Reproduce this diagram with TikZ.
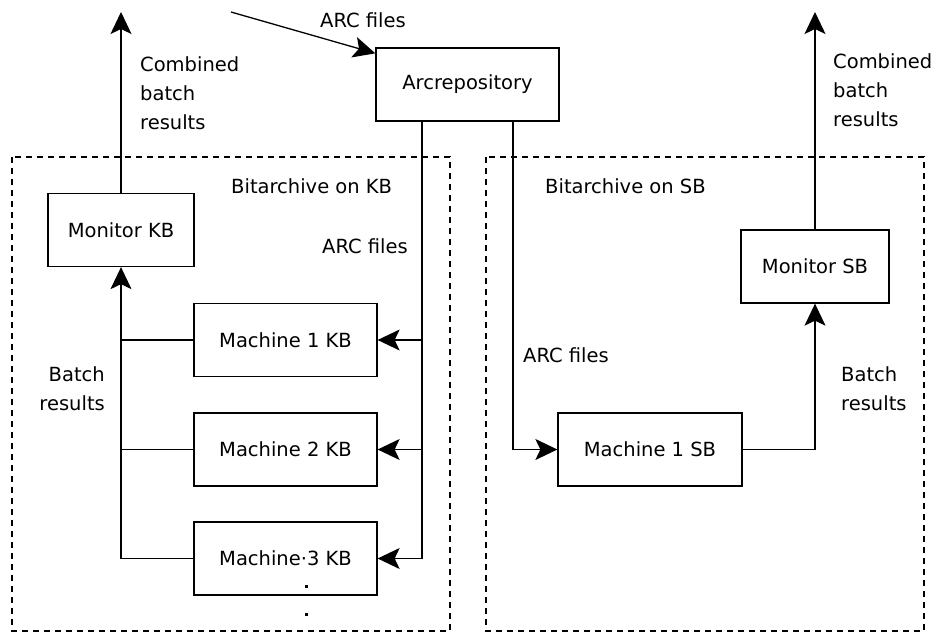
\documentclass[tikz,border=0pt]{standalone}
\usepackage{fontspec}
\setmainfont{DejaVu Sans}
\usetikzlibrary{arrows.meta}
\begin{document}
\begin{tikzpicture}[x=1pt,y=-1pt,
  every node/.style={font=\fontsize{19.5}{29}\selectfont},
  box/.style={draw,line width=1.3pt,inner sep=0pt,minimum height=73pt},
  conn/.style={line width=1.3pt},
  arr/.style={conn,-{Stealth[length=22pt,width=21pt,inset=5pt]}},
  dashbox/.style={line width=1.2pt,dash pattern=on 6pt off 5pt},
  lbl/.style={inner sep=0pt},
  dotmark/.style={fill,inner sep=0pt,minimum size=3pt}]
\useasboundingbox (0,0) rectangle (937,632);
% containers
\draw[dashbox] (12,157) rectangle (450,631);
\draw[dashbox] (486,157) rectangle (924,631);
% nodes
\node[box,minimum width=183pt] (arc) at (467.5,84.5) {Arcrepository};
\node[box,minimum width=146pt] (monk) at (121,230) {Monitor KB};
\node[box,minimum width=183pt] (m1) at (285.5,340) {Machine 1 KB};
\node[box,minimum width=183pt] (m2) at (285.5,449.5) {Machine 2 KB};
\node[box,minimum width=183pt] (m3) at (285.5,558.5) {Machine·3 KB};
\node[box,minimum width=184pt] (ms) at (650,449.5) {Machine 1 SB};
\node[box,minimum width=148pt] (mons) at (815,266.5) {Monitor SB};
\node[dotmark] (d1) at (306,586) {};
\node[dotmark] (d2) at (306,614) {};
% free ends
\coordinate (src) at (231,12);
\coordinate (outK) at (121,12);
\coordinate (outS) at (815,12);
\coordinate (xK) at (422,0);
\coordinate (xS) at (513,0);
% labels
\node[lbl,anchor=base west] (l1) at (320,27) {ARC files};
\node[lbl,anchor=north west,align=left] (l2) at (140,56) {Combined\\batch\\results};
\node[lbl,anchor=north west,align=left] (l3) at (833,53) {Combined\\batch\\results};
\node[lbl,anchor=base west] (l4) at (231,193) {Bitarchive on KB};
\node[lbl,anchor=base west] (l5) at (545,193) {Bitarchive on SB};
\node[lbl,anchor=base west] (l6) at (322,253) {ARC files};
\node[lbl,anchor=base west] (l7) at (523,362) {ARC files};
\node[lbl,anchor=north east,align=right] (l8) at (105,366) {Batch\\results};
\node[lbl,anchor=north west,align=left] (l9) at (841,366) {Batch\\results};
% connectors
\draw[arr] (src) -- ([yshift=-6pt]arc.north west);
\draw[arr] (monk.north) -- (outK);
\draw[arr] (mons.north) -- (outS);
\draw[arr] (arc.south -| xK) |- (m3.east);
\draw[arr] (m1.east -| xK) -- (m1.east);
\draw[arr] (m2.east -| xK) -- (m2.east);
\draw[arr] (m3.west) -| (monk.south);
\draw[conn] (m1.west) -- (m1.west -| monk.south);
\draw[conn] (m2.west) -- (m2.west -| monk.south);
\draw[arr] (arc.south -| xS) |- (ms.west);
\draw[arr] (ms.east) -| (mons.south);
\end{tikzpicture}
\end{document}
